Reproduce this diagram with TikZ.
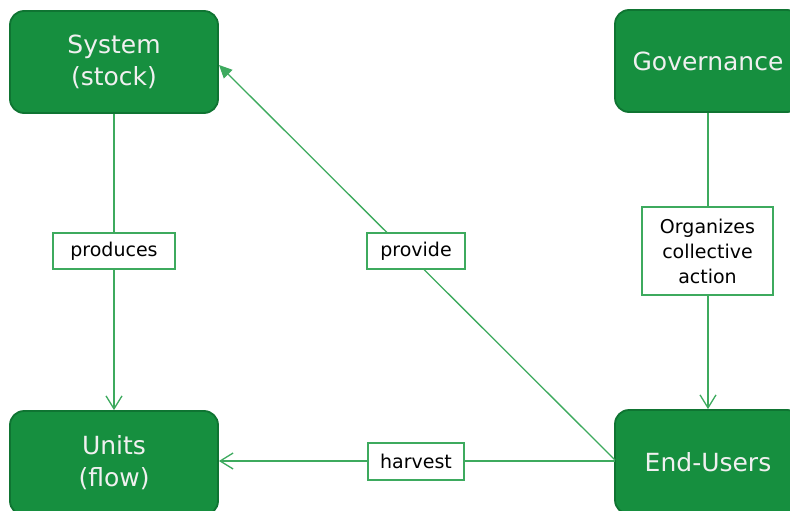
\documentclass[tikz,border=0pt]{standalone}
\usepackage{fontspec}
\setmainfont{DejaVu Sans}
\usetikzlibrary{arrows.meta}
\definecolor{boxfill}{HTML}{168F3F}
\definecolor{boxdraw}{HTML}{0F7432}
\definecolor{linec}{HTML}{3DAA5E}
\tikzset{
  mainbox/.style={draw=boxdraw, line width=1.8pt, fill=boxfill, rounded corners=14pt,
    text=white!94!black, font=\fontsize{25}{32}\selectfont, align=center, inner sep=0pt},
  lbl/.style={draw=linec, line width=1.2pt, fill=white, text=black,
    font=\fontsize{19}{25}\selectfont, align=center, inner sep=0pt},
  conn/.style={draw=linec, line width=1.3pt},
  openarrow/.style={-{Straight Barb[length=13pt,width=16pt,line width=1.3pt]}},
  fillarrow/.style={-{Triangle[length=13pt,width=12pt]}}
}
\begin{document}
\begin{tikzpicture}[x=1pt,y=-1pt]
\useasboundingbox (0,0) rectangle (790,511);
\clip (0,0) rectangle (790,511);
\fill[white] (0,0) rectangle (790,511);
\node[mainbox, minimum width=208pt, minimum height=102pt] (sys) at (114,62) {System\\(stock)};
\node[mainbox, minimum width=186pt, minimum height=102pt] (gov) at (708,61) {Governance};
\node[mainbox, minimum width=208pt, minimum height=104pt] (units) at (114,463) {Units\\(flow)};
\node[mainbox, minimum width=186pt, minimum height=104pt] (users) at (708,462) {End-Users};
\coordinate (usersL) at (615,461);
\coordinate (usersP) at (615,460);
\coordinate (sysR) at (219,65);
\draw[conn, openarrow] (sys.south) -- (units.north);
\draw[conn, openarrow] (gov.south) -- (users.north);
\draw[conn, openarrow] (usersL) -- (units.east |- usersL);
\draw[conn, fillarrow] (usersP) -- (sysR);
\node[lbl, minimum width=122pt, minimum height=36pt] (prod) at (114,251) {produces};
\node[lbl, minimum width=98pt, minimum height=36pt] (prov) at (416,251) {provide};
\node[lbl, minimum width=131pt, minimum height=88pt] (org) at (707.5,251) {Organizes\\collective\\action};
\node[lbl, minimum width=96pt, minimum height=37pt] (harv) at (416,461.5) {harvest};
\end{tikzpicture}
\end{document}
